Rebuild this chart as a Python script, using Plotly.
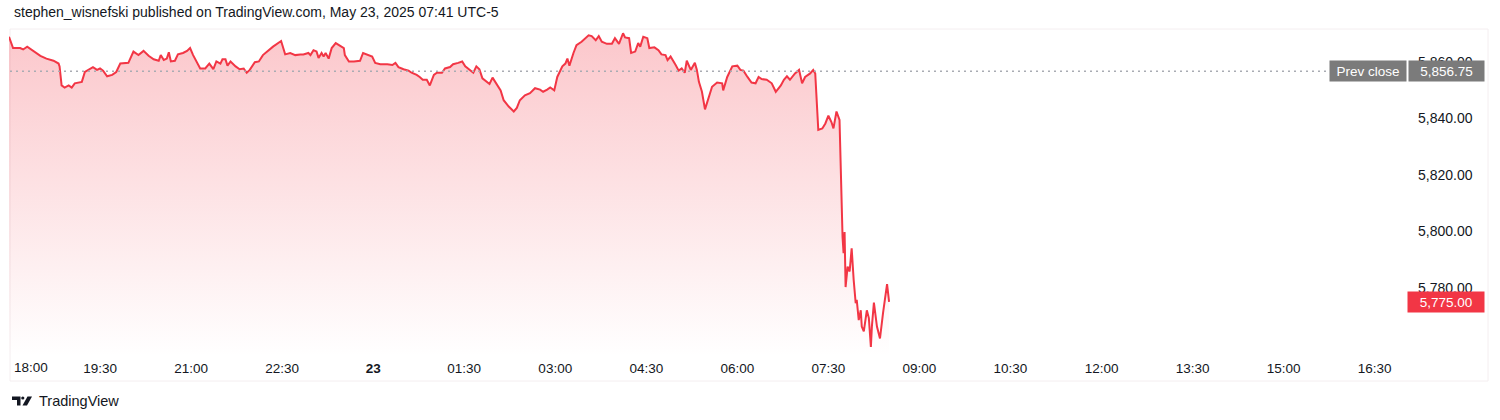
import pandas as pd
import plotly.graph_objects as go

# ---------------- data ----------------
session_minute = [
    0, 4, 11, 14, 18, 22, 26, 31, 37, 44, 49, 50, 52, 55, 59, 62, 65, 72, 75, 80,
    83, 87, 90, 93, 97, 102, 106, 110, 118, 123, 128, 133, 138, 143, 148, 150, 153, 156, 158, 160,
    164, 167, 172, 176, 179, 182, 186, 189, 194, 198, 202, 205, 209, 211, 214, 216, 219, 224, 228, 232,
    235, 238, 243, 247, 251, 255, 261, 269, 273, 278, 283, 288,
    291, 296, 298, 301, 304, 306, 309, 311, 313, 316, 319, 323, 327, 331, 332, 336, 341, 347, 350, 355,
    359, 362, 367, 374, 379, 382, 385, 390, 395, 398, 403, 406, 409, 413, 416, 420, 423, 428, 431, 436,
    439, 444, 448, 451, 454, 459, 462, 465, 468, 472, 475, 478, 481, 486, 489, 494, 499, 502, 505, 510,
    515, 520, 525, 528, 532, 535, 539, 542, 547, 550, 552, 554, 558, 561, 566, 570, 573,
    576, 580, 583, 586, 591, 596, 599, 603, 607, 609, 613, 615, 619, 622, 624, 627, 631, 633, 638, 642,
    645, 649, 651, 654, 659, 662, 665, 668, 670, 674, 678, 680, 682, 685, 688, 692, 695, 700, 705, 706,
    710, 715, 720, 723, 726, 730, 734, 738, 741, 744, 749, 754, 758, 763, 766, 769, 772, 777, 781, 784,
    787, 792, 795, 797, 799,
    800, 804, 807, 810, 813, 815, 818, 821, 822, 823, 824, 825, 826, 827, 829, 831, 833, 835, 837, 838,
    840, 842, 843, 845, 848, 850, 852, 853, 855, 858, 861, 864, 868, 870,
]

price = [
    5869.0, 5865.0, 5865.0, 5864.5, 5865.5, 5864.5, 5863.25, 5862.25, 5861.25, 5860.5,
    5859.5, 5858.5, 5851.75, 5851.0, 5851.75, 5851.0, 5852.5, 5853.0, 5856.5, 5857.5,
    5858.25, 5857.25, 5857.75, 5857.0, 5855.0, 5855.5, 5856.5, 5859.5, 5859.75, 5863.75,
    5862.5, 5864.0, 5862.25, 5861.0, 5860.5, 5862.5, 5860.75, 5861.25, 5863.5, 5860.25,
    5860.5, 5862.75, 5863.25, 5864.0, 5865.0, 5862.5, 5859.5, 5857.75, 5857.75, 5859.5,
    5857.5, 5860.25, 5859.5, 5861.0, 5861.0, 5858.75, 5860.25, 5858.5, 5857.5, 5857.75,
    5856.25, 5857.25, 5860.0, 5860.25, 5862.5, 5863.75, 5865.5, 5867.5, 5862.75, 5863.25,
    5862.5, 5862.75,
    5862.75, 5863.25, 5862.5, 5864.25, 5863.75, 5861.5, 5863.25, 5862.0, 5863.25, 5861.25,
    5865.0, 5866.75, 5865.75, 5865.0, 5862.5, 5860.25, 5860.25, 5860.5, 5863.25, 5862.5,
    5862.0, 5859.75, 5859.25, 5859.25, 5859.0, 5859.75, 5858.25, 5857.5, 5857.0, 5856.25,
    5855.5, 5854.75, 5853.75, 5853.75, 5851.75, 5855.5, 5856.25, 5856.25, 5857.75, 5858.25,
    5859.25, 5859.75, 5860.25, 5858.5, 5857.75, 5856.25, 5858.5, 5857.5, 5854.25, 5853.0,
    5852.25, 5854.5, 5852.75, 5850.0, 5846.5, 5844.25, 5842.5, 5843.75, 5846.5, 5848.25,
    5849.0, 5850.75, 5850.25, 5849.5, 5850.25, 5851.0, 5850.0, 5854.75, 5858.5, 5859.5,
    5861.25, 5858.75, 5863.25, 5866.0, 5867.25, 5868.5, 5869.5,
    5869.25, 5867.75, 5869.25, 5867.25, 5866.5, 5866.5, 5868.5, 5866.5, 5870.25, 5868.75,
    5868.5, 5863.25, 5863.75, 5866.75, 5865.5, 5869.0, 5868.5, 5865.0, 5865.25, 5864.25,
    5862.75, 5862.5, 5860.75, 5862.0, 5859.0, 5857.0, 5857.75, 5856.25, 5860.5, 5857.25,
    5859.75, 5857.25, 5853.0, 5849.5, 5843.25, 5847.75, 5851.25, 5852.75, 5852.5, 5850.0,
    5854.75, 5858.5, 5858.75, 5857.25, 5857.0, 5854.75, 5852.75, 5852.5, 5854.75, 5854.0,
    5853.75, 5852.5, 5849.5, 5851.75, 5853.75, 5855.0, 5853.75, 5856.0, 5857.25, 5852.5,
    5854.75, 5856.0, 5857.25, 5856.0, 5843.0,
    5836.0, 5836.5, 5838.25, 5841.0, 5838.75, 5836.5, 5842.5, 5839.5, 5824.0, 5806.5,
    5798.0, 5792.25, 5799.75, 5780.25, 5787.5, 5785.75, 5794.0, 5782.75, 5774.5, 5775.75,
    5768.5, 5772.0, 5766.25, 5764.5, 5772.0, 5769.25, 5759.0, 5766.25, 5774.75, 5766.25,
    5762.0, 5771.0, 5781.25, 5775.0,
]

prev_close = 5856.75
last_price = 5775.00
y_ticks = [5780, 5800, 5820, 5840, 5860]
first_x_label = "18:00"
x_tick_labels = ["19:30", "21:00", "22:30", "23", "01:30", "03:00", "04:30", "06:00",
                 "07:30", "09:00", "10:30", "12:00", "13:30", "15:00", "16:30"]
header_text = "stephen_wisnefski published on TradingView.com, May 23, 2025 07:41 UTC-5"
brand_text = "TradingView"

# ---------------- layout helpers (pixel -> paper) ----------------
W, H = 1500, 420
PL, PR, PT, PB = 9, 1405, 30, 355
def px(x):
    return (x - PL) / (PR - PL)
def py(y):
    return (PB - y) / (PB - PT)

FONT = "Liberation Sans, Arial, sans-serif"
TXT = "#131722"
RED = "#f23645"

session_open = pd.Timestamp("2025-05-22 18:00")
times = session_open + pd.to_timedelta(session_minute, unit="min")
tickvals = [session_open + pd.Timedelta(minutes=90 * (i + 1)) for i in range(len(x_tick_labels))]
ticktext = ["<b>%s</b>" % s if s == "23" else s for s in x_tick_labels]

y_lo, y_hi = 5756.15, 5871.4

fig = go.Figure()
fig.add_trace(go.Scatter(
    x=times, y=price, mode="lines",
    line=dict(color=RED, width=2),
    fill="tozeroy",
    fillgradient=dict(type="vertical",
                      colorscale=[[0, "rgba(242,54,69,0.0)"], [1, "rgba(242,54,69,0.28)"]],
                      start=y_lo, stop=y_hi),
    hoverinfo="skip",
))

fig.update_layout(
    width=W, height=H,
    margin=dict(l=PL, r=W - PR, t=PT, b=H - PB),
    paper_bgcolor="white", plot_bgcolor="white",
    showlegend=False,
    font=dict(family=FONT, color=TXT, size=13),
    xaxis=dict(
        type="date",
        range=[session_open, session_open + pd.Timedelta(minutes=1380)],
        tickvals=tickvals, ticktext=ticktext,
        showgrid=False, zeroline=False, showline=False, ticks="",
        tickfont=dict(family=FONT, size=13.5, color=TXT),
        ticklabelstandoff=3,
    ),
    yaxis=dict(
        side="right",
        range=[y_lo, y_hi],
        tickvals=y_ticks, tickformat=",.2f",
        showgrid=False, zeroline=False, showline=False, ticks="",
        tickfont=dict(family=FONT, size=14, color=TXT),
        ticklabelstandoff=12,
    ),
)

shapes = []
# outer frame
shapes.append(dict(type="rect", xref="paper", yref="paper",
                   x0=px(10), x1=px(1488), y0=py(381), y1=py(29),
                   line=dict(color="#f4eef0", width=1), fillcolor="rgba(0,0,0,0)", layer="below"))
# prev close dotted line
shapes.append(dict(type="line", xref="paper", yref="y",
                   x0=px(10), x1=px(1329), y0=prev_close, y1=prev_close,
                   line=dict(color="#a9acb3", width=1.5, dash="2px,4px")))
# TradingView logo mark
shapes.append(dict(type="path", xref="paper", yref="paper",
                   path="M %f %f L %f %f L %f %f L %f %f L %f %f L %f %f Z" % (
                       px(12), py(396.5), px(20.5), py(396.5), px(20.5), py(405.5),
                       px(17), py(405.5), px(17), py(400), px(12), py(400)),
                   fillcolor=TXT, line=dict(width=0)))
shapes.append(dict(type="circle", xref="paper", yref="paper",
                   x0=px(21.2), x1=px(24.4), y0=py(399.6), y1=py(396.4),
                   fillcolor=TXT, line=dict(width=0)))
shapes.append(dict(type="path", xref="paper", yref="paper",
                   path="M %f %f L %f %f L %f %f L %f %f Z" % (
                       px(27.5), py(396.5), px(32), py(396.5), px(27), py(405.5), px(22.5), py(405.5)),
                   fillcolor=TXT, line=dict(width=0)))
fig.update_layout(shapes=shapes)

ann = []
ann.append(dict(xref="paper", yref="paper", x=px(12), y=py(12), xanchor="left", yanchor="middle",
                text=header_text, showarrow=False, font=dict(family=FONT, size=14, color=TXT)))
ann.append(dict(xref="paper", yref="paper", x=px(12), y=py(367), xanchor="left", yanchor="middle",
                text=first_x_label, showarrow=False, font=dict(family=FONT, size=13.5, color=TXT)))
ann.append(dict(xref="paper", yref="paper", x=px(37), y=py(401), xanchor="left", yanchor="middle",
                text=brand_text, showarrow=False, font=dict(family=FONT, size=14.5, color=TXT)))
# price-scale labels
ann.append(dict(xref="paper", yref="y", x=px(1329), y=prev_close, xanchor="left", yanchor="middle",
                text="Prev close", showarrow=False, width=74, height=18, borderpad=1,
                bgcolor="#7b7b7b", font=dict(family=FONT, size=13.5, color="white")))
ann.append(dict(xref="paper", yref="y", x=px(1408), y=prev_close, xanchor="left", yanchor="middle",
                text="{:,.2f}".format(prev_close), showarrow=False, width=73, height=18, borderpad=1,
                bgcolor="#7b7b7b", font=dict(family=FONT, size=13.5, color="white")))
ann.append(dict(xref="paper", yref="y", x=px(1407), y=last_price, xanchor="left", yanchor="middle",
                text="{:,.2f}".format(last_price), showarrow=False, width=74, height=18, borderpad=1,
                bgcolor=RED, font=dict(family=FONT, size=13.5, color="white")))
fig.update_layout(annotations=ann)

fig.write_html("out.html", config={"displayModeBar": False},
               post_script="document.body.style.margin='0';document.body.style.padding='0';")
